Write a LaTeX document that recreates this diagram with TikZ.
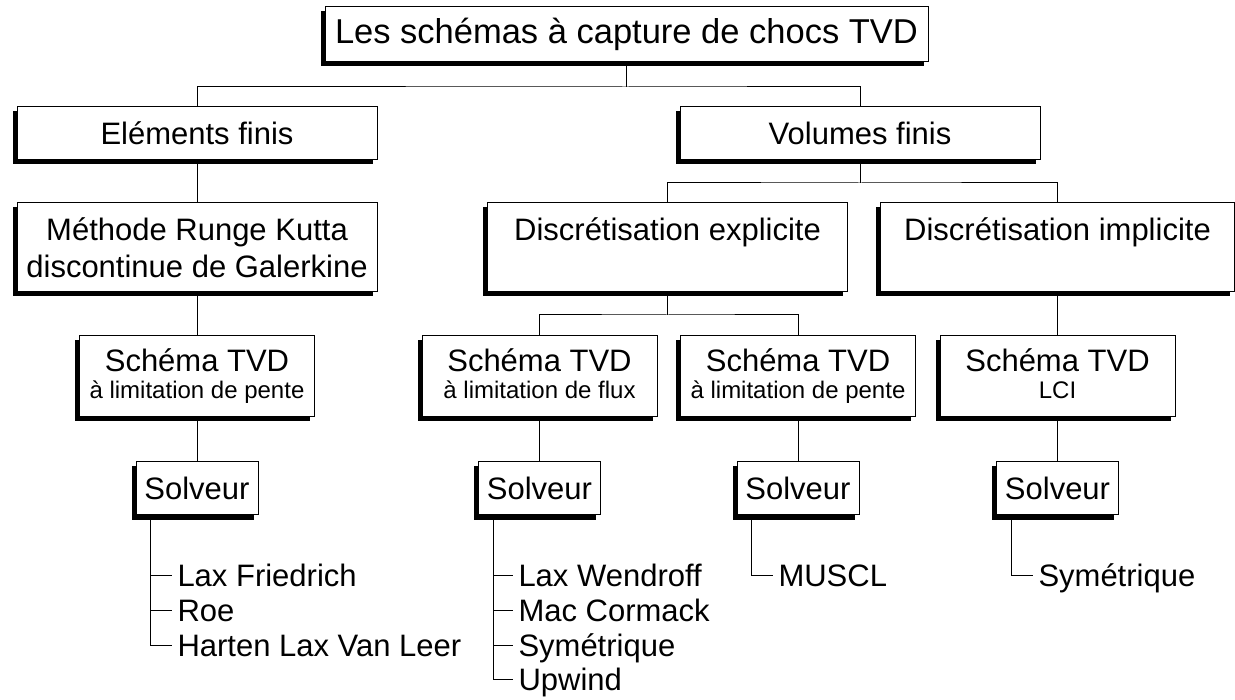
\documentclass[tikz,border=0pt]{standalone}
\usepackage{fontspec}
\setmainfont{Liberation Sans}
\usetikzlibrary{shadows,positioning}

\begin{document}
\begin{tikzpicture}[x=1pt,y=-1pt,line width=1pt,
  bx/.style={draw,fill=white,align=center,inner sep=0pt,
    drop shadow={shadow xshift=-4.5pt,shadow yshift=-4.5pt,fill=black,opacity=1},
    font=\fontsize{31}{37}\selectfont},
  wide/.style={bx,minimum width=360pt,minimum height=53pt},
  tall/.style={bx,minimum width=360pt,minimum height=89pt},
  tvd/.style={bx,minimum width=235pt,minimum height=81pt,text depth=5pt,
    font=\fontsize{31}{27}\selectfont},
  sv/.style={bx,minimum width=122pt,minimum height=53pt},
  it/.style={anchor=west,inner xsep=5pt,inner ysep=0pt,text height=22pt,text depth=0pt,
    font=\fontsize{31}{37}\selectfont}]
\useasboundingbox (0,0) rectangle (1235,700);

% boxes
\node[bx,minimum width=603pt,minimum height=55pt,font=\fontsize{34.5}{40}\selectfont] (top) at (626.5,34.5) {Les schémas à capture de chocs TVD};
\node[wide] (ef) at (197,133.5) {Eléments finis};
\node[wide] (vf) at (860,133.5) {Volumes finis};
\node[tall] (rk) at (197,247.5) {Méthode Runge Kutta\\discontinue de Galerkine};
\node[tall] (de) at (667.5,247.5) {Discrétisation explicite\\\mbox{}};
\node[tall,minimum width=354pt] (di) at (1057.5,247.5) {Discrétisation implicite\\\mbox{}};
\node[tvd] (t1) at (197,376.5) {Schéma TVD\\{\fontsize{24}{27}\selectfont à limitation de pente}};
\node[tvd] (t2) at (539.5,376.5) {Schéma TVD\\{\fontsize{24}{27}\selectfont à limitation de flux}};
\node[tvd] (t3) at (798,376.5) {Schéma TVD\\{\fontsize{24}{27}\selectfont à limitation de pente}};
\node[tvd] (t4) at (1057.5,376.5) {Schéma TVD\\{\fontsize{24}{27}\selectfont LCI}};
\node[sv] (s1) at (197,488.5) {Solveur};
\node[sv] (s2) at (539.5,488.5) {Solveur};
\node[sv] (s3) at (798,488.5) {Solveur};
\node[sv] (s4) at (1057.5,488.5) {Solveur};

% solver lists
\node[it] (lf) at (172,575) {Lax Friedrich};
\node[it] (roe) at (172,610) {Roe};
\node[it] (hll) at (172,645) {Harten Lax Van Leer};
\node[it] (lw) at (513,575) {Lax Wendroff};
\node[it] (mc) at (513,610) {Mac Cormack};
\node[it] (sy1) at (513,645) {Symétrique};
\node[it] (up) at (513,679) {Upwind};
\node[it] (mu) at (773,575) {MUSCL};
\node[it] (sy2) at (1033,575) {Symétrique};

% tree
\coordinate (j0) at (626.5,87);
\coordinate (j1) at (860,183);
\coordinate (j2) at (667.5,315);
\draw (top.south) -- (j0);
\draw (ef.north) |- (j0) -| (vf.north);
\draw (ef.south) -- (rk.north);
\draw (rk.south) -- (t1.north);
\draw (vf.south) -- (j1);
\draw (de.north) |- (j1) -| (di.north);
\draw (de.south) -- (j2);
\draw (t2.north) |- (j2) -| (t3.north);
\draw (di.south) -- (t4.north);
\draw (t1.south) -- (s1.north);
\draw (t2.south) -- (s2.north);
\draw (t3.south) -- (s3.north);
\draw (t4.south) -- (s4.north);

\draw ([xshift=15pt]s1.south west) |- (lf.west);
\draw ([xshift=15pt]s1.south west) |- (roe.west);
\draw ([xshift=15pt]s1.south west) |- (hll.west);
\draw ([xshift=15pt]s2.south west) |- (lw.west);
\draw ([xshift=15pt]s2.south west) |- (mc.west);
\draw ([xshift=15pt]s2.south west) |- (sy1.west);
\draw ([xshift=15pt]s2.south west) |- (up.west);
\draw ([xshift=15pt]s3.south west) |- (mu.west);
\draw ([xshift=15pt]s4.south west) |- (sy2.west);
\end{tikzpicture}
\end{document}
